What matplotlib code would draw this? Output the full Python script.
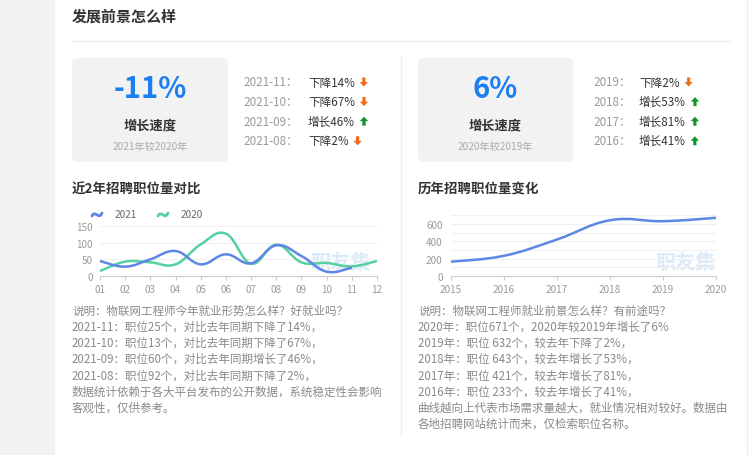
import matplotlib
matplotlib.use('Agg')
import matplotlib.pyplot as plt
import numpy as np
from matplotlib.patches import FancyBboxPatch, Polygon, PathPatch
from matplotlib.path import Path

plt.rcParams['font.family'] = ['Noto Sans CJK SC', 'DejaVu Sans']

# ---------------- data ----------------
months = ['01', '02', '03', '04', '05', '06', '07', '08', '09', '10', '11', '12']
jobs_2021 = [45, 28, 50, 75, 35, 65, 38, 92, 60, 13, 25]
jobs_2020 = [15, 43, 41, 35, 95, 127, 37, 94, 41, 39, 29, 45]
years = ['2015', '2016', '2017', '2018', '2019', '2020']
jobs_year = [165, 233, 421, 643, 632, 671]

left_growth = '-11%'
left_growth_note = '2021年较2020年'
left_rows = [('2021-11：', '下降14%', 'down'), ('2021-10：', '下降67%', 'down'),
             ('2021-09：', '增长46%', 'up'), ('2021-08：', '下降2%', 'down')]
right_growth = '6%'
right_growth_note = '2020年较2019年'
right_rows = [('2019：', '下降2%', 'down'), ('2018：', '增长53%', 'up'),
              ('2017：', '增长81%', 'up'), ('2016：', '增长41%', 'up')]

left_text = ['说明：物联网工程师今年就业形势怎么样？好就业吗？',
             '2021-11：职位25个，对比去年同期下降了14%，',
             '2021-10：职位13个，对比去年同期下降了67%，',
             '2021-09：职位60个，对比去年同期增长了46%，',
             '2021-08：职位92个，对比去年同期下降了2%，',
             '数据统计依赖于各大平台发布的公开数据，系统稳定性会影响',
             '客观性，仅供参考。']
right_text = ['说明：物联网工程师就业前景怎么样？有前途吗？',
              '2020年：职位671个，2020年较2019年增长了6%',
              '2019年：职位 632个，较去年下降了2%，',
              '2018年：职位 643个，较去年增长了53%，',
              '2017年：职位 421个，较去年增长了81%，',
              '2016年：职位 233个，较去年增长了41%，',
              '曲线越向上代表市场需求量越大，就业情况相对较好。数据由',
              '各地招聘网站统计而来，仅检索职位名称。']

# ---------------- style ----------------
BLUE = '#5e86e6'
GREEN = '#55d0a0'
BIG_BLUE = '#1b7ff2'
DARK = '#333333'
LGRAY = '#9a9a9a'
BODY = '#8a8a8a'
ORANGE = '#f26a1b'
UPGREEN = '#14932a'
W, H = 750, 456

fig = plt.figure(figsize=(7.5, 4.56), dpi=100)
fig.patch.set_facecolor('white')

ov = fig.add_axes([0, 0, 1, 1])
ov.set_xlim(0, W)
ov.set_ylim(H, 0)
ov.axis('off')

# page background
ov.add_patch(plt.Rectangle((0, 0), 55, H, color='#f2f2f2', lw=0))
ov.plot([747, 747], [0, H], color='#eeeeee', lw=1)

ov.text(72, 17, '发展前景怎么样', fontsize=10.8, fontweight='bold', color=DARK, va='center', ha='left')
ov.plot([72, 730], [42, 42], color='#f0f0f0', lw=1)
ov.plot([401, 401], [58, 436], color='#eeeeee', lw=1)


def arrow(cx, cy, direction):
    s = 1 if direction == 'down' else -1
    pts = [(cx - 1.6, cy - s * 4.5), (cx + 1.6, cy - s * 4.5), (cx + 1.6, cy),
           (cx + 4.2, cy), (cx, cy + s * 4.5), (cx - 4.2, cy), (cx - 1.6, cy)]
    ov.add_patch(Polygon(pts, closed=True, color=ORANGE if direction == 'down' else UPGREEN, lw=0))


def stat_block(x0, x1, big, note, rows, lx, vx):
    ov.add_patch(FancyBboxPatch((x0, 59), x1 - x0, 104, boxstyle='round,pad=0,rounding_size=5',
                                fc='#f2f2f2', ec='none'))
    cx = (x0 + x1) / 2
    ov.text(cx, 89, big, fontsize=21, fontweight='bold', color=BIG_BLUE, ha='center', va='center')
    ov.text(cx, 125, '增长速度', fontsize=9.5, fontweight='bold', color=DARK, ha='center', va='center')
    ov.text(cx, 147, note, fontsize=7.3, color='#aaaaaa', ha='center', va='center')
    texts = []
    for i, (lab, val, d) in enumerate(rows):
        y = 83 + i * 19.6
        ov.text(lx, y, lab, fontsize=8.4, color=LGRAY, ha='left', va='center')
        t = ov.text(vx, y, val, fontsize=8.4, color=DARK, ha='left', va='center')
        texts.append((t, y, d))
    return texts


pending = []
pending += stat_block(72, 228, left_growth, left_growth_note, left_rows, 243, 308)
pending += stat_block(418, 573, right_growth, right_growth_note, right_rows, 593, 639)

ov.text(72, 190, '近2年招聘职位量对比', fontsize=9.7, fontweight='bold', color=DARK, ha='left', va='center')
ov.text(418, 190, '历年招聘职位量变化', fontsize=9.7, fontweight='bold', color=DARK, ha='left', va='center')

# watermarks
ov.text(341, 263, '职友集', fontsize=14.5, fontweight='bold', color='#dbeaf8', ha='center', va='center')
ov.text(686, 263, '职友集', fontsize=14.5, fontweight='bold', color='#dbeaf8', ha='center', va='center')

# legend
for x, col, lab in [(92, BLUE, '2021'), (158, GREEN, '2020')]:
    p = Path([(x, 217), (x + 3, 210.5), (x + 7, 221.5), (x + 10, 214)],
             [Path.MOVETO, Path.CURVE4, Path.CURVE4, Path.CURVE4])
    ov.add_patch(PathPatch(p, fc='none', ec=col, lw=2, capstyle='round'))
    ov.text(x + 23, 215.5, lab, fontsize=7.2, color='#666666', ha='left', va='center')

# body text
for i, line in enumerate(left_text):
    ov.text(72, 311 + i * 16.2, line, fontsize=8.3, color=BODY, ha='left', va='center')
for i, line in enumerate(right_text):
    ov.text(418, 311 + i * 16.2, line, fontsize=8.3, color=BODY, ha='left', va='center')


def smooth_path(xs, ys, s=0.2):
    pts = np.column_stack([xs, ys]).astype(float)
    n = len(pts)
    verts = [pts[0]]
    codes = [Path.MOVETO]
    for i in range(n - 1):
        p0 = pts[i - 1] if i > 0 else pts[i]
        p1 = pts[i]
        p2 = pts[i + 1]
        p3 = pts[i + 2] if i + 2 < n else pts[i + 1]
        verts += [p1 + (p2 - p0) * s, p2 - (p3 - p1) * s, p2]
        codes += [Path.CURVE4] * 3
    return Path(verts, codes)


def style_axes(ax, ymax, major, minor, xlabels, ypad):
    ax.set_facecolor('none')
    for sp in ['top', 'right', 'left']:
        ax.spines[sp].set_visible(False)
    ax.spines['bottom'].set_color('#cccccc')
    ax.spines['bottom'].set_linewidth(0.8)
    ax.set_ylim(0, ymax)
    ax.set_xlim(0, len(xlabels) - 1)
    ax.set_yticks(major)
    ax.set_yticks(minor, minor=True)
    ax.grid(axis='y', which='both', color='#f0f0f0', lw=0.8)
    ax.set_axisbelow(True)
    ax.set_xticks(range(len(xlabels)))
    ax.set_xticklabels(xlabels)
    ax.tick_params(axis='y', which='both', length=0, labelsize=7.2, labelcolor=LGRAY, pad=ypad)
    ax.tick_params(axis='x', length=3, color='#cccccc', labelsize=7.2, labelcolor=LGRAY, pad=3)


ax1 = fig.add_axes([100 / W, 1 - 277 / H, 277 / W, 50 / H])
style_axes(ax1, 150, [0, 50, 100, 150], [], months, 5)
ax1.add_patch(PathPatch(smooth_path(range(len(jobs_2020)), jobs_2020), fc='none', ec=GREEN, lw=1.8, clip_on=False))
ax1.add_patch(PathPatch(smooth_path(range(len(jobs_2021)), jobs_2021), fc='none', ec=BLUE, lw=1.8, clip_on=False))

ax2 = fig.add_axes([451 / W, 1 - 277 / H, 265 / W, 60.7 / H])
style_axes(ax2, 700, [0, 200, 400, 600], [100, 300, 500, 700], years, 6)
ax2.add_patch(PathPatch(smooth_path(range(len(jobs_year)), jobs_year), fc='none', ec=BLUE, lw=1.8, clip_on=False))

# arrows after measured value texts
fig.canvas.draw()
r = fig.canvas.get_renderer()
for t, y, d in pending:
    bb = t.get_window_extent(r)
    arrow(bb.x1 + 9, y, d)

fig.savefig('out.png', dpi=100)
